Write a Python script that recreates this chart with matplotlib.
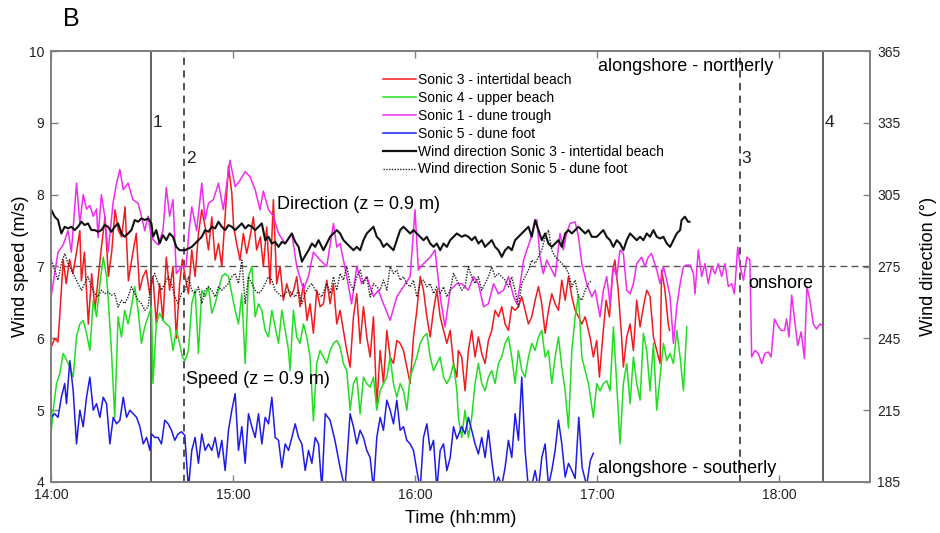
import matplotlib
matplotlib.use("Agg")
import matplotlib.pyplot as plt
from matplotlib.lines import Line2D

# ---------------------------------------------------------------------------
# Data: (minutes after 14:00, value)
# ---------------------------------------------------------------------------
# wind speed (m/s)
sonic3 = [  # intertidal beach (red)
    (0.1, 5.88), (1.2, 6.0), (2.3, 5.95), (3.0, 6.4), (4.0, 7.09), (5.0, 6.76), (6.1, 7.1), (7.2, 6.9), (8.4, 7.2), (9.5, 7.5),
    (10.0, 6.8), (11.0, 7.2), (12.3, 6.2), (13.4, 6.9), (14.5, 6.4), (15.6, 6.86), (16.7, 7.3), (17.8, 7.69), (18.9, 6.86), (20.0, 7.2),
    (21.1, 7.79), (22.2, 7.5), (23.3, 7.41), (24.4, 7.83), (25.5, 6.8), (27.0, 7.2), (28.1, 7.46), (29.2, 6.67), (30.3, 6.86), (31.4, 6.95),
    (32.5, 6.62), (33.6, 6.86), (34.7, 6.2), (35.8, 6.76), (36.9, 6.25), (38.0, 7.13), (39.1, 6.67), (40.2, 7.0), (41.3, 6.0), (42.4, 6.76),
    (43.3, 7.1), (44.2, 6.86), (45.3, 6.62), (46.4, 7.23), (47.5, 6.86), (48.6, 7.46), (49.7, 7.79), (50.8, 7.55), (51.9, 7.23), (53.0, 7.69),
    (54.1, 7.09), (55.2, 7.32), (56.3, 7.0), (57.4, 7.69), (58.5, 8.4), (59.6, 8.02), (60.2, 7.55), (61.2, 7.32), (62.3, 7.09), (63.4, 7.46),
    (64.5, 7.18), (65.6, 7.41), (66.7, 7.69), (67.8, 7.23), (69.0, 7.41), (70.0, 7.0), (71.1, 7.55), (72.2, 6.76), (73.3, 7.93), (74.4, 6.76),
    (75.5, 7.0), (76.6, 6.53), (77.7, 6.76), (78.9, 6.58), (80.0, 6.67), (81.0, 6.86), (82.1, 6.44), (83.2, 6.76), (84.4, 6.25), (85.4, 6.48),
    (86.5, 6.07), (87.6, 6.67), (88.7, 6.44), (89.8, 6.48), (90.9, 6.81), (92.0, 6.48), (93.1, 6.76), (94.2, 6.2), (95.3, 6.39), (96.4, 6.11),
    (97.5, 5.83), (98.6, 5.6), (99.7, 6.3), (100.8, 6.62), (101.9, 5.93), (103.0, 6.44), (104.1, 6.02), (105.2, 5.74), (106.3, 6.3), (107.4, 5.05),
    (108.5, 5.83), (109.6, 5.37), (110.7, 6.11), (111.8, 5.74), (112.9, 5.65), (114.0, 5.97), (115.1, 5.93), (116.2, 5.83), (117.3, 5.6), (118.4, 5.37),
    (119.5, 6.02), (120.6, 6.39), (121.7, 6.86), (122.8, 6.67), (123.9, 6.3), (125.0, 6.02), (126.1, 6.39), (127.2, 6.67), (128.3, 6.3), (129.4, 6.11),
    (130.5, 5.93), (131.6, 6.11), (132.7, 5.65), (133.8, 5.46), (134.3, 5.83), (135.4, 5.74), (136.5, 5.27), (137.6, 5.83), (138.7, 6.11), (139.8, 5.74),
    (140.9, 6.02), (142.0, 5.79), (143.1, 5.65), (144.2, 5.97), (145.3, 6.11), (146.4, 6.39), (147.5, 6.3), (148.6, 6.44), (149.7, 6.2), (150.8, 6.11),
    (151.9, 6.44), (153.0, 6.39), (154.1, 6.44), (155.2, 6.58), (156.3, 6.39), (157.4, 6.2), (158.5, 6.3), (159.6, 6.53), (160.7, 6.72), (161.8, 6.48),
    (162.9, 6.07), (164.0, 6.39), (165.1, 6.62), (166.2, 6.48), (167.3, 6.39), (168.4, 6.81), (169.5, 6.53), (170.6, 6.86), (171.7, 6.58), (172.8, 6.39),
    (173.9, 6.3), (175.0, 6.2), (176.1, 6.3), (177.7, 6.02), (178.8, 5.74), (179.9, 5.97), (180.8, 5.46), (181.9, 6.02), (183.0, 6.53), (184.1, 6.3),
    (185.2, 6.95), (185.9, 7.09), (187.0, 6.67), (188.1, 6.02), (188.7, 5.6), (189.8, 6.02), (190.9, 6.2), (192.0, 5.83), (193.1, 6.53), (194.2, 6.16),
    (195.3, 6.44), (196.4, 6.67), (197.5, 6.58), (198.6, 6.02), (199.7, 5.83), (200.8, 5.65), (201.3, 6.95), (202.4, 6.67), (203.5, 6.2), (203.9, 6.11),
]
sonic4 = [  # upper beach (green)
    (0.1, 4.72), (0.7, 5.0), (1.8, 5.37), (2.9, 5.51), (4.0, 5.79), (5.1, 5.7), (6.2, 5.6), (7.3, 5.46), (8.4, 6.02), (9.5, 6.2),
    (10.6, 6.25), (11.7, 6.07), (12.8, 5.83), (13.9, 6.53), (15.0, 6.3), (16.1, 6.76), (17.2, 7.13), (18.3, 6.86), (18.8, 6.58), (19.9, 5.83),
    (21.0, 4.9), (22.1, 6.3), (23.2, 6.02), (24.3, 6.39), (25.4, 6.2), (26.5, 6.44), (27.6, 6.72), (28.7, 6.39), (29.8, 5.93), (30.9, 6.16),
    (32.0, 6.3), (33.1, 6.44), (33.6, 5.37), (34.7, 6.2), (35.8, 6.35), (36.9, 6.25), (38.0, 6.2), (39.1, 6.16), (40.2, 5.83), (41.3, 6.11),
    (42.4, 5.93), (43.3, 5.74), (44.2, 5.69), (45.3, 5.83), (46.4, 6.48), (47.5, 6.67), (48.6, 5.79), (49.7, 6.67), (50.8, 6.58), (51.9, 6.72),
    (53.0, 6.35), (54.1, 6.48), (55.2, 6.67), (56.3, 6.86), (57.4, 6.9), (58.5, 6.86), (59.6, 6.62), (60.7, 6.39), (61.8, 6.2), (62.9, 6.62),
    (64.0, 5.65), (65.1, 6.86), (66.2, 7.0), (67.3, 6.3), (68.4, 6.48), (69.5, 6.39), (70.6, 6.11), (71.7, 6.02), (72.8, 6.39), (73.9, 6.16),
    (75.0, 5.93), (76.1, 6.39), (77.2, 6.11), (78.3, 5.83), (78.8, 5.55), (79.9, 6.39), (81.0, 6.02), (82.1, 5.93), (83.2, 6.2), (84.3, 6.02),
    (85.4, 5.74), (86.5, 4.85), (87.6, 5.65), (88.7, 5.83), (89.8, 5.74), (90.9, 5.65), (92.0, 5.83), (93.1, 5.93), (94.2, 5.97), (95.3, 5.88),
    (96.4, 5.65), (97.5, 5.55), (98.6, 5.0), (99.7, 5.37), (100.8, 5.46), (101.9, 4.95), (103.0, 5.46), (104.1, 5.37), (105.2, 5.32), (106.3, 5.46),
    (107.4, 5.0), (108.5, 5.27), (109.6, 5.37), (110.7, 5.46), (111.8, 5.74), (112.9, 5.37), (114.0, 5.18), (115.1, 5.37), (116.2, 5.27), (117.3, 5.0),
    (118.4, 5.46), (119.5, 5.6), (120.6, 5.74), (121.7, 5.93), (122.8, 6.02), (123.9, 6.07), (125.0, 5.74), (126.1, 5.55), (127.2, 5.65), (128.3, 5.74),
    (129.4, 5.46), (130.5, 5.37), (131.6, 5.46), (132.7, 5.65), (133.8, 5.27), (134.3, 4.9), (135.4, 4.62), (136.5, 5.0), (137.6, 4.62), (138.7, 4.9),
    (139.8, 5.37), (140.9, 5.65), (142.0, 5.37), (143.1, 5.27), (144.2, 5.46), (145.3, 5.55), (146.4, 5.37), (147.5, 5.65), (148.6, 5.74), (149.7, 5.93),
    (150.8, 6.02), (151.9, 5.74), (153.0, 5.37), (154.1, 5.83), (155.2, 5.55), (156.3, 5.46), (157.4, 5.74), (158.5, 5.93), (159.6, 5.83), (160.7, 6.02),
    (161.8, 6.11), (162.9, 5.74), (164.0, 5.83), (165.1, 5.37), (166.2, 5.74), (167.3, 6.02), (168.4, 5.6), (169.5, 5.27), (170.6, 4.75), (171.7, 5.83),
    (172.8, 6.3), (173.9, 6.6), (175.0, 5.74), (176.1, 5.55), (177.2, 5.37), (178.8, 4.9), (179.9, 5.37), (181.0, 5.27), (182.1, 5.37), (183.2, 5.41),
    (184.3, 5.27), (185.4, 6.16), (186.5, 5.37), (187.6, 4.53), (188.7, 5.37), (189.8, 5.65), (190.9, 5.09), (192.0, 5.74), (193.1, 5.37), (194.2, 5.14),
    (195.3, 6.07), (196.4, 5.83), (197.5, 5.27), (198.6, 5.93), (199.7, 5.0), (200.8, 5.46), (201.9, 5.93), (203.0, 5.69), (204.1, 5.79), (205.2, 5.65),
    (206.3, 6.11), (207.4, 5.74), (208.5, 5.27), (209.6, 6.16),
]
sonic1 = [  # dune trough (magenta)
    (0.1, 6.6), (1.2, 6.9), (2.3, 7.2), (4.0, 7.3), (5.6, 7.5), (6.7, 7.2), (8.4, 8.16), (9.5, 7.6), (10.6, 8.0), (11.7, 7.8),
    (12.8, 7.85), (13.9, 7.7), (15.0, 7.8), (15.5, 7.4), (16.6, 8.0), (17.7, 7.7), (18.8, 7.2), (20.5, 7.9), (21.6, 8.16), (22.7, 8.35),
    (23.8, 8.07), (25.4, 8.16), (27.0, 7.93), (28.7, 7.88), (29.8, 7.7), (30.9, 7.5), (32.0, 7.7), (33.1, 7.4), (35.3, 7.3), (36.9, 7.5),
    (38.0, 8.1), (39.1, 7.7), (40.2, 7.93), (41.3, 6.9), (43.0, 7.0), (44.5, 7.0), (45.5, 7.5), (46.4, 7.83), (48.0, 7.5), (49.7, 8.16),
    (50.8, 7.65), (51.9, 7.88), (53.5, 7.93), (55.2, 8.16), (56.8, 7.79), (59.0, 8.48), (60.7, 8.11), (62.3, 8.2), (64.0, 8.32), (65.6, 8.25),
    (67.3, 8.07), (68.9, 7.79), (70.0, 8.05), (71.7, 7.79), (73.3, 7.7), (75.0, 7.46), (77.2, 7.32), (79.4, 7.46), (81.0, 7.0), (83.2, 6.68),
    (84.9, 6.87), (86.5, 7.2), (88.7, 7.09), (90.9, 7.0), (93.1, 7.6), (94.2, 7.27), (95.3, 7.32), (97.5, 6.86), (99.1, 6.48), (100.8, 7.0),
    (102.4, 6.76), (104.1, 6.86), (106.3, 6.58), (107.9, 6.67), (109.6, 6.48), (111.8, 6.25), (114.0, 6.58), (116.2, 6.72), (118.4, 6.86), (120.0, 7.79),
    (121.1, 6.95), (122.8, 7.04), (125.0, 7.13), (126.6, 7.23), (128.3, 6.58), (129.9, 6.16), (131.6, 6.67), (133.8, 6.76), (135.4, 6.76), (137.6, 6.67),
    (139.3, 6.86), (140.9, 6.76), (142.6, 6.44), (144.2, 6.48), (145.9, 6.76), (147.5, 6.62), (149.2, 6.67), (150.8, 6.86), (152.5, 6.58), (153.6, 6.48),
    (154.7, 6.76), (155.8, 7.09), (156.9, 7.23), (158.0, 7.37), (159.1, 7.55), (160.2, 7.65), (161.2, 7.13), (162.3, 6.9), (163.4, 7.09), (165.1, 6.95),
    (166.2, 6.86), (167.8, 7.46), (168.9, 7.23), (170.0, 7.46), (171.1, 7.6), (172.8, 7.62), (173.9, 7.41), (175.0, 7.04), (176.6, 6.76), (178.3, 6.58),
    (179.4, 6.67), (181.0, 6.3), (182.1, 6.67), (183.2, 6.86), (184.3, 6.48), (185.4, 7.0), (186.5, 6.86), (187.6, 7.23), (188.7, 7.18), (189.8, 6.67),
    (190.9, 6.62), (192.0, 6.76), (193.1, 7.04), (194.7, 7.13), (195.8, 7.0), (196.9, 7.13), (198.0, 7.18), (199.7, 6.95), (200.8, 6.76), (201.9, 7.0),
    (203.0, 6.81), (204.1, 6.58), (205.2, 5.93), (206.3, 6.44), (207.4, 6.76), (208.5, 7.0), (209.6, 7.02), (210.7, 7.02), (211.8, 6.9), (212.3, 6.62),
    (213.4, 7.23), (214.5, 6.86), (215.6, 7.04), (216.7, 6.76), (217.8, 7.0), (218.9, 6.9), (220.0, 7.04), (221.1, 6.86), (222.2, 7.04), (223.3, 6.72),
    (224.4, 6.76), (225.3, 6.62), (226.4, 7.27), (227.2, 7.0), (228.3, 6.81), (229.4, 7.13), (230.4, 7.09), (231.0, 5.74), (232.1, 5.83), (233.2, 5.79),
    (234.3, 5.65), (235.4, 5.79), (236.5, 5.81), (237.4, 5.74), (238.5, 6.27), (239.6, 6.18), (240.7, 6.11), (241.8, 6.11), (242.5, 6.27), (243.3, 6.02),
    (244.2, 6.6), (245.3, 6.2), (246.2, 5.9), (247.3, 6.09), (248.4, 5.72), (249.2, 6.72), (250.2, 6.53), (251.3, 6.2), (252.4, 6.13), (253.5, 6.2),
    (254.3, 6.18),
]
sonic5 = [  # dune foot (blue); values under 4 leave the axis
    (0.1, 4.9), (1.2, 4.95), (2.3, 4.9), (3.4, 5.18), (4.5, 5.37), (5.1, 5.09), (6.2, 5.69), (7.3, 5.27), (8.4, 4.53), (9.5, 5.0),
    (10.6, 4.77), (11.7, 5.18), (12.8, 5.46), (13.9, 5.0), (15.0, 5.09), (16.1, 4.9), (17.2, 5.18), (18.3, 5.09), (19.4, 4.53), (20.5, 4.9),
    (21.6, 4.81), (22.7, 4.86), (23.8, 5.18), (24.9, 4.9), (26.0, 5.0), (27.1, 4.95), (28.2, 4.9), (29.3, 4.77), (30.4, 4.53), (31.5, 4.62),
    (32.6, 4.44), (33.1, 4.67), (34.2, 4.62), (35.3, 4.62), (36.4, 4.53), (37.5, 4.86), (38.6, 4.81), (39.7, 4.72), (40.8, 4.58), (41.9, 4.67),
    (43.0, 4.7), (44.1, 4.65), (45.3, 3.9), (46.4, 4.44), (47.5, 4.62), (48.6, 4.26), (49.7, 4.67), (50.8, 4.44), (51.9, 4.53), (53.0, 4.44),
    (54.1, 4.62), (55.2, 4.34), (56.3, 4.58), (57.4, 4.16), (58.5, 4.72), (59.6, 5.0), (60.7, 5.23), (61.8, 4.44), (62.9, 4.77), (64.0, 4.26),
    (65.1, 4.95), (66.2, 4.77), (67.3, 4.62), (68.4, 4.95), (69.5, 4.53), (70.6, 4.9), (71.7, 4.81), (72.8, 5.18), (73.9, 4.62), (75.0, 4.58),
    (76.1, 4.2), (77.2, 4.53), (78.3, 4.44), (79.4, 4.62), (80.5, 4.81), (81.6, 4.62), (82.7, 4.53), (83.8, 4.16), (84.9, 4.44), (86.0, 4.26),
    (87.1, 4.62), (88.2, 4.53), (89.3, 3.9), (90.4, 4.95), (92.0, 4.86), (93.6, 4.58), (95.3, 4.2), (96.9, 3.9), (98.6, 4.95), (99.7, 4.77),
    (100.8, 4.53), (101.9, 4.72), (103.0, 4.62), (104.1, 4.44), (105.2, 4.34), (106.3, 3.9), (107.4, 4.62), (108.5, 4.9), (109.6, 4.72), (110.7, 5.14),
    (111.8, 5.0), (112.9, 4.81), (114.0, 5.14), (115.1, 4.72), (116.2, 4.77), (117.3, 4.58), (118.4, 4.53), (119.5, 4.44), (120.6, 4.16), (121.7, 3.9),
    (122.8, 4.62), (123.9, 4.81), (125.0, 4.44), (126.1, 4.58), (127.2, 3.9), (128.3, 4.44), (129.4, 4.53), (130.5, 4.16), (131.6, 4.34), (132.7, 4.77),
    (133.8, 4.6), (135.4, 4.77), (136.5, 4.67), (137.6, 4.9), (138.7, 4.72), (139.8, 4.53), (140.9, 4.39), (142.0, 4.62), (143.1, 4.34), (144.2, 4.72),
    (145.3, 4.3), (146.4, 3.95), (147.5, 4.07), (148.6, 3.95), (149.7, 4.2), (150.8, 4.58), (151.9, 4.34), (153.0, 4.95), (154.1, 4.58), (155.2, 5.46),
    (156.3, 4.44), (157.4, 3.9), (158.5, 3.95), (159.6, 4.16), (160.7, 3.9), (161.8, 4.34), (162.9, 4.53), (164.0, 3.95), (165.1, 4.16), (166.2, 4.44),
    (167.3, 4.86), (168.4, 4.53), (169.5, 4.07), (170.6, 4.26), (171.7, 4.16), (172.8, 4.05), (174.0, 4.9), (175.1, 4.2), (176.6, 3.95), (177.8, 4.3),
    (178.8, 4.4),
]

# wind direction (deg)
dir_sonic3 = [
    (0.1, 298.6), (1.2, 295.8), (2.3, 294.4), (3.4, 288.8), (4.5, 291.6), (5.6, 290.9), (6.7, 291.6), (7.8, 290.2), (8.9, 291.6), (10.0, 293.7),
    (11.1, 292.3), (12.2, 293.0), (13.3, 290.2), (14.4, 290.2), (15.5, 289.5), (16.6, 290.2), (17.7, 292.3), (18.8, 291.6), (19.9, 289.5), (21.0, 291.6),
    (22.1, 293.0), (23.2, 288.8), (24.3, 287.4), (25.4, 288.8), (26.5, 290.2), (27.6, 294.4), (28.7, 293.7), (29.8, 295.1), (30.9, 294.4), (32.0, 295.1),
    (33.1, 293.0), (33.6, 287.4), (34.7, 290.2), (35.8, 284.6), (36.9, 288.1), (38.0, 286.0), (39.1, 288.8), (40.2, 287.4), (41.3, 283.2), (42.4, 281.8),
    (44.1, 281.8), (45.3, 282.5), (46.4, 283.2), (47.5, 284.6), (48.6, 286.0), (49.7, 287.4), (50.8, 290.2), (51.9, 289.5), (53.0, 291.6), (54.1, 290.9),
    (55.2, 293.7), (56.3, 291.6), (57.4, 290.2), (58.5, 292.3), (59.6, 291.6), (60.7, 290.2), (61.8, 291.6), (62.9, 293.0), (64.0, 290.9), (65.1, 292.3),
    (66.2, 291.6), (67.3, 290.2), (68.4, 291.6), (69.5, 293.0), (70.6, 286.0), (71.7, 287.4), (72.8, 284.6), (73.9, 285.3), (75.0, 283.2), (76.1, 285.3),
    (77.2, 284.6), (78.3, 286.7), (79.4, 288.8), (80.5, 285.3), (81.6, 283.2), (82.7, 277.0), (83.8, 279.5), (84.9, 281.8), (86.0, 284.6), (87.1, 283.2),
    (88.2, 286.0), (89.8, 281.8), (90.9, 284.6), (92.0, 287.4), (93.1, 288.8), (94.2, 290.2), (95.3, 288.8), (96.4, 286.0), (97.5, 284.6), (98.6, 283.2),
    (99.7, 281.8), (100.8, 283.2), (101.9, 281.8), (103.0, 286.0), (104.1, 288.8), (105.2, 290.2), (106.3, 291.6), (107.4, 287.4), (108.5, 286.0), (109.6, 283.2),
    (110.7, 284.6), (111.8, 283.2), (112.9, 281.8), (114.0, 286.0), (115.1, 290.2), (116.2, 291.6), (117.3, 290.2), (118.4, 288.8), (119.5, 290.2), (120.6, 288.8),
    (121.7, 287.4), (122.8, 286.0), (123.9, 287.4), (125.0, 284.6), (126.1, 283.2), (127.2, 284.6), (128.3, 281.8), (129.4, 284.6), (130.5, 283.2), (131.6, 286.0),
    (132.7, 287.4), (133.8, 288.8), (135.4, 287.4), (136.5, 288.1), (137.6, 287.4), (138.7, 286.0), (139.8, 287.4), (140.9, 284.6), (142.0, 286.0), (143.1, 283.2),
    (144.2, 284.6), (145.3, 286.0), (146.4, 283.2), (147.5, 281.8), (148.6, 279.0), (149.7, 281.8), (150.8, 283.2), (151.9, 281.8), (153.0, 286.0), (154.1, 287.4),
    (155.2, 288.8), (156.3, 290.2), (157.4, 291.6), (158.5, 287.4), (159.6, 294.4), (160.7, 290.2), (161.8, 286.0), (162.9, 288.8), (164.0, 284.6), (165.1, 283.2),
    (166.2, 284.6), (167.3, 286.0), (168.4, 283.2), (169.5, 288.8), (170.6, 290.2), (171.7, 288.8), (172.8, 290.2), (173.9, 291.6), (175.0, 290.2), (176.1, 288.8),
    (177.2, 290.2), (178.3, 287.4), (179.9, 287.4), (181.0, 288.8), (182.1, 290.2), (183.2, 287.4), (184.3, 286.0), (185.4, 283.2), (186.5, 286.0), (187.6, 284.6),
    (188.7, 281.8), (189.8, 286.0), (190.9, 288.8), (192.0, 287.4), (193.1, 286.0), (194.2, 287.4), (195.3, 286.0), (196.4, 288.8), (197.5, 287.4), (198.6, 290.2),
    (199.7, 287.4), (200.8, 286.7), (201.9, 287.4), (203.0, 284.6), (204.1, 283.2), (205.2, 286.0), (206.3, 288.8), (207.4, 290.2), (207.9, 294.4), (209.0, 295.8),
    (210.0, 293.7), (210.5, 293.7),
]
dir_sonic5 = [
    (0.1, 277.7), (1.2, 273.5), (2.3, 269.3), (3.4, 276.3), (4.5, 280.4), (5.6, 276.3), (6.7, 273.5), (7.8, 270.7), (8.9, 267.9), (10.0, 265.1),
    (11.1, 267.9), (12.2, 270.7), (13.3, 266.5), (14.4, 263.7), (15.5, 262.3), (16.6, 265.1), (17.7, 263.7), (18.8, 264.4), (19.9, 263.0), (21.0, 263.7),
    (22.1, 258.1), (23.2, 260.9), (24.3, 259.5), (25.4, 262.3), (26.5, 266.5), (27.6, 263.7), (28.7, 260.9), (29.8, 259.5), (30.9, 256.7), (32.0, 258.1),
    (33.1, 269.3), (34.2, 272.1), (35.3, 267.9), (36.4, 265.1), (37.5, 267.9), (38.6, 270.7), (39.7, 267.9), (40.8, 262.3), (41.9, 259.5), (43.0, 263.7),
    (44.1, 265.1), (45.3, 270.7), (46.4, 265.1), (47.5, 263.7), (48.6, 266.5), (49.7, 259.5), (50.8, 265.1), (51.9, 266.5), (53.0, 265.1), (54.1, 262.3),
    (55.2, 266.5), (56.3, 265.1), (57.4, 266.5), (58.5, 267.9), (59.6, 270.7), (60.7, 272.1), (61.8, 267.9), (62.9, 277.7), (64.0, 259.5), (65.1, 270.7),
    (66.2, 267.9), (67.3, 265.1), (68.4, 263.7), (69.5, 265.1), (70.6, 267.9), (71.7, 270.7), (72.8, 269.3), (73.9, 265.1), (75.0, 263.7), (76.1, 262.3),
    (77.2, 263.7), (78.3, 265.1), (79.4, 263.7), (80.5, 262.3), (81.6, 265.1), (82.7, 259.5), (83.8, 263.7), (84.9, 266.5), (86.0, 267.9), (87.1, 265.1),
    (88.2, 263.7), (89.3, 262.3), (90.9, 267.9), (92.0, 263.7), (93.1, 270.7), (94.2, 265.1), (95.3, 272.1), (96.4, 269.3), (97.5, 274.9), (98.6, 267.9),
    (99.7, 265.1), (100.8, 270.7), (101.9, 273.5), (103.0, 267.9), (104.1, 270.7), (105.2, 262.3), (106.3, 267.9), (107.4, 266.5), (108.5, 265.1), (109.6, 269.3),
    (110.7, 265.1), (111.8, 274.9), (112.9, 272.1), (114.0, 273.5), (115.1, 269.3), (116.2, 270.7), (117.3, 267.9), (118.4, 266.5), (119.5, 269.3), (120.6, 262.3),
    (121.7, 267.9), (122.8, 269.3), (123.9, 266.5), (125.0, 267.9), (126.1, 263.7), (127.2, 266.5), (128.3, 263.7), (129.4, 266.5), (130.5, 262.3), (131.6, 265.1),
    (132.7, 272.1), (133.8, 269.3), (134.3, 267.9), (135.4, 265.1), (136.5, 266.5), (137.6, 274.9), (138.7, 270.7), (139.8, 267.9), (140.9, 270.7), (142.0, 265.1),
    (143.1, 267.9), (144.2, 270.7), (145.3, 274.9), (146.4, 270.7), (147.5, 272.1), (148.6, 270.7), (149.7, 269.3), (150.8, 266.5), (151.9, 270.7), (153.0, 265.1),
    (154.1, 258.1), (155.2, 267.9), (156.3, 270.7), (157.4, 273.5), (158.5, 277.7), (159.6, 276.3), (160.7, 279.1), (161.8, 281.8), (162.9, 287.4), (164.0, 290.2),
    (165.1, 281.8), (166.2, 279.1), (167.3, 277.7), (168.4, 276.3), (169.5, 274.9), (170.6, 272.1), (171.7, 266.5), (172.8, 269.3), (173.9, 262.3), (175.0, 260.9),
    (176.1, 265.1), (177.2, 267.9), (178.3, 269.3),
]

labels = [
    "Sonic 3 - intertidal beach",
    "Sonic 4 - upper beach",
    "Sonic 1 - dune trough",
    "Sonic 5 - dune foot",
    "Wind direction Sonic 3 - intertidal beach",
    "Wind direction Sonic 5 - dune foot",
]
# event markers (minutes after 14:00) and their labels
event_times = [33, 44, 227, 254.5]
event_labels = ["1", "2", "3", "4"]
event_styles = ["-", "--", "--", "-"]

time_ticks = [0, 60, 120, 180, 240]
time_labels = ["14:00", "15:00", "16:00", "17:00", "18:00"]
speed_ticks = [4, 5, 6, 7, 8, 9, 10]
dir_ticks = [185, 215, 245, 275, 305, 335, 365]

# ---------------------------------------------------------------------------
# Plot
# ---------------------------------------------------------------------------
plt.rcParams["font.family"] = ["Liberation Sans", "DejaVu Sans"]

SPINE = "#808080"
fig = plt.figure(figsize=(9.4, 5.33), dpi=100)
ax = fig.add_axes([0.0543, 0.0957, 0.8712, 0.8086])
ax2 = ax.twinx()

speed_series = [sonic3, sonic4, sonic1, sonic5]
speed_colors = ["#f01c1c", "#22dd22", "#f02cf0", "#1c1ce6"]
for ser, col in zip(speed_series, speed_colors):
    t, v = zip(*ser)
    ax.plot(t, v, color=col, lw=1.1)

t, v = zip(*dir_sonic3)
ax2.plot(t, v, color="#111111", lw=1.5)
t, v = zip(*dir_sonic5)
ax2.plot(t, v, color="#222222", lw=1.0, linestyle=(0, (1, 1)))

ax.axhline(7, color="#555555", lw=1.0, linestyle=(0, (5, 3)), zorder=0.5)
for et, lab, ls, ly in zip(event_times, event_labels, event_styles, [9.0, 8.5, 8.5, 9.0]):
    ax.axvline(et, color="#555555" if ls == "-" else "#444444", lw=1.3,
               linestyle="-" if ls == "-" else (0, (4, 3)), zorder=0.6)
    ax.text(et + 0.6, ly, lab, fontsize=12.5, ha="left", va="center", color="#222")

ax.set_xlim(0, 270)
ax.set_ylim(4, 10)
ax2.set_ylim(185, 365)
ax.set_xticks(time_ticks)
ax.set_xticklabels(time_labels)
ax.set_yticks(speed_ticks)
ax2.set_yticks(dir_ticks)

for a in (ax, ax2):
    for s in a.spines.values():
        s.set_color(SPINE)
        s.set_linewidth(1.3)
ax.tick_params(axis="both", direction="in", length=5, width=1.0, color=SPINE,
               labelsize=10, labelcolor="#222", top=True, pad=4)
ax.tick_params(axis="y", pad=5)
ax2.tick_params(axis="y", direction="in", length=5, width=1.0, color=SPINE,
                labelsize=10, labelcolor="#222", pad=5)

ax.set_xlabel("Time (hh:mm)", fontsize=13, labelpad=6)
ax.set_ylabel("Wind speed (m/s)", fontsize=13, labelpad=0)
ax2.set_ylabel("Wind direction (°)", fontsize=13, labelpad=14)

# annotations
ax.text(74.5, 7.87, "Direction (z = 0.9 m)", fontsize=13, va="center", ha="left")
ax.text(44.5, 5.42, "Speed (z = 0.9 m)", fontsize=13, va="center", ha="left")
ax.text(180.3, 9.78, "alongshore - northerly", fontsize=13, va="center", ha="left")
ax.text(180.3, 4.19, "alongshore - southerly", fontsize=13, va="center", ha="left")
ax.text(229.8, 6.77, "onshore", fontsize=13, va="center", ha="left")

fig.text(0.0755, 0.965, "B", fontsize=18, ha="center", va="center")

handles = [Line2D([], [], color=c, lw=1.1) for c in speed_colors]
handles += [Line2D([], [], color="#111111", lw=1.6),
            Line2D([], [], color="#222222", lw=1.0, linestyle=(0, (1, 1)))]
leg = ax2.legend(handles, labels, loc="upper left",
                 bbox_to_anchor=(383 / 940, 1 - 73 / 533),
                 bbox_transform=fig.transFigure, frameon=False, fontsize=10,
                 handlelength=2.4, handletextpad=0.15, labelspacing=0.28,
                 borderaxespad=0, borderpad=0)

fig.savefig("out.png", dpi=100)
